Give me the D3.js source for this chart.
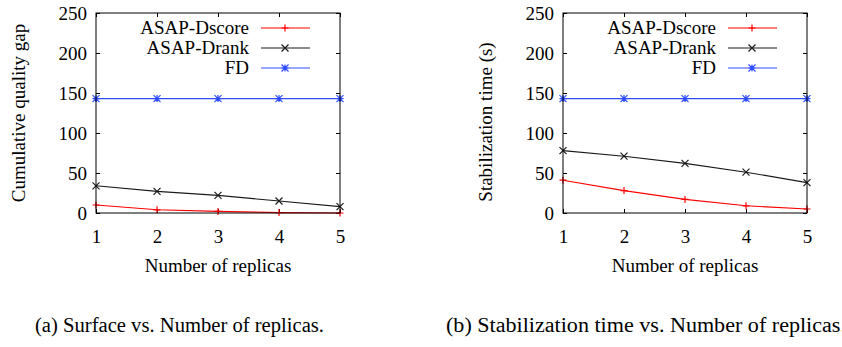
<!DOCTYPE html>
<html>
<head>
<meta charset="utf-8">
<script src="https://cdn.jsdelivr.net/npm/d3@7"></script>
<style>
  body { margin: 0; background: #fff; }
  svg text { font-family: "Liberation Serif", "Times New Roman", Times, Tinos, "DejaVu Serif", serif; fill: #000; }
</style>
</head>
<body>
<script>
var W = 842, H = 347;
var FONT = "'Liberation Serif', 'Times New Roman', Times, Tinos, 'DejaVu Serif', serif";

// data
var replicas = [1, 2, 3, 4, 5];
var yTicks = [0, 50, 100, 150, 200, 250];
var seriesNames = ["ASAP-Dscore", "ASAP-Drank", "FD"];
var gapDscore = [10, 4, 2, 0.5, 0];
var gapDrank = [34, 27, 22, 15, 8];
var gapFD = [143, 143, 143, 143, 143];
var timeDscore = [41, 28, 17, 9, 5];
var timeDrank = [78, 71, 62, 51, 38];
var timeFD = [143, 143, 143, 143, 143];

var colors = ["#ff0000", "#1a1a1a", "#2f4dff"];
var shapes = ["plus", "cross", "star"];

var svg = d3.select("body").append("svg").attr("width", W).attr("height", H)
  .attr("font-family", FONT);

function marker(g, shape, x, y, color) {
  var s = 3.5;
  var p = "";
  if (shape == "plus" || shape == "star") p += "M" + (x - s) + "," + y + "H" + (x + s) + "M" + x + "," + (y - s) + "V" + (y + s);
  if (shape == "cross" || shape == "star") p += "M" + (x - s) + "," + (y - s) + "L" + (x + s) + "," + (y + s) + "M" + (x - s) + "," + (y + s) + "L" + (x + s) + "," + (y - s);
  g.append("path").attr("d", p).attr("stroke", color).attr("stroke-width", 1.2).attr("fill", "none");
}

function panel(left, ylabel, ylabelY, data, legendRight) {
  var x0 = left, x1 = left + 244, y0 = 13, y1 = 213;
  var x = d3.scaleLinear().domain([1, 5]).range([x0, x1]);
  var y = d3.scaleLinear().domain([0, 250]).range([y1, y0]);
  var g = svg.append("g");

  // ticks (inward, mirrored)
  g.append("g").attr("transform", "translate(" + x0 + ",0)")
    .call(d3.axisLeft(y).tickValues(yTicks).tickSize(-4).tickPadding(9).tickFormat(d3.format("d")));
  g.append("g").attr("transform", "translate(" + x1 + ",0)")
    .call(d3.axisRight(y).tickValues(yTicks).tickSize(-4).tickFormat(""));
  g.append("g").attr("transform", "translate(0," + y1 + ")")
    .call(d3.axisBottom(x).tickValues(replicas).tickSize(-4).tickPadding(17).tickFormat(d3.format("d")));
  g.append("g").attr("transform", "translate(0," + y0 + ")")
    .call(d3.axisTop(x).tickValues(replicas).tickSize(-4).tickFormat(""));
  g.selectAll(".domain").remove();
  g.selectAll("g").attr("font-family", FONT).attr("font-size", 19);
  g.selectAll(".tick line").attr("stroke", "#000");
  g.selectAll(".tick text").attr("fill", "#000");

  // series
  var line = d3.line().x(function (d, i) { return x(replicas[i]); }).y(function (d) { return y(d); });
  data.forEach(function (vals, k) {
    g.append("path").datum(vals).attr("d", line).attr("fill", "none")
      .attr("stroke", colors[k]).attr("stroke-width", 1.1);
    vals.forEach(function (v, i) { marker(g, shapes[k], x(replicas[i]), y(v), colors[k]); });
  });

  // frame
  g.append("rect").attr("x", x0).attr("y", y0).attr("width", x1 - x0).attr("height", y1 - y0)
    .attr("fill", "none").attr("stroke", "#000").attr("stroke-width", 1);

  // legend
  seriesNames.forEach(function (name, k) {
    var ly = 28 + k * 20;
    g.append("text").attr("x", legendRight).attr("y", ly + 6).attr("text-anchor", "end")
      .attr("font-size", 19).text(name);
    g.append("line").attr("x1", legendRight + 12).attr("x2", legendRight + 61)
      .attr("y1", ly).attr("y2", ly).attr("stroke", colors[k]).attr("stroke-width", 1.1);
    marker(g, shapes[k], legendRight + 36, ly, colors[k]);
  });

  // axis labels
  g.append("text").attr("x", (x0 + x1) / 2).attr("y", 272).attr("text-anchor", "middle")
    .attr("font-size", 19).text("Number of replicas");
  g.append("text").attr("transform", "translate(" + (x0 - 71) + "," + ylabelY + ") rotate(-90)")
    .attr("text-anchor", "middle").attr("font-size", 19).text(ylabel);
}

panel(96, "Cumulative quality gap", 113, [gapDscore, gapDrank, gapFD], 249);
panel(563, "Stabilization time (s)", 122, [timeDscore, timeDrank, timeFD], 716);

svg.append("text").attr("x", 35).attr("y", 332).attr("font-size", 20)
  .attr("textLength", 289).attr("lengthAdjust", "spacingAndGlyphs")
  .text("(a) Surface vs. Number of replicas.");
svg.append("text").attr("x", 446).attr("y", 332).attr("font-size", 20)
  .attr("textLength", 400).attr("lengthAdjust", "spacingAndGlyphs")
  .text("(b) Stabilization time vs. Number of replicas.");
</script>
</body>
</html>
